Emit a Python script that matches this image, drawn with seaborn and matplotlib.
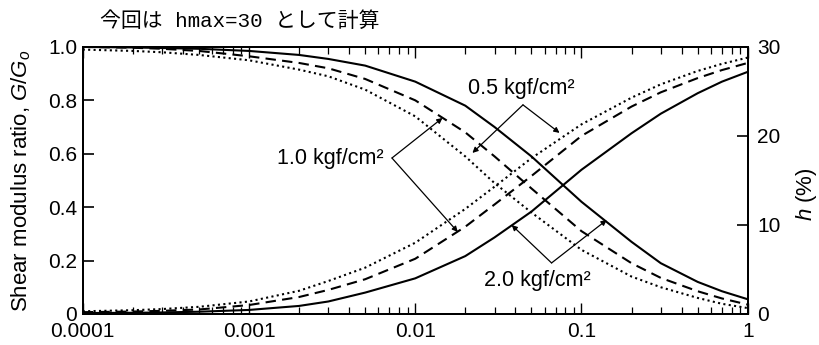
"""
Courbes G/G0 et h en fonction de la deformation (log), trois pressions de confinement
"""

import pandas as pd
import matplotlib
matplotlib.use("Agg")
import matplotlib.pyplot as plt
import seaborn as sns
from matplotlib.ticker import FixedLocator, FixedFormatter, LogLocator, NullFormatter

# ===== DONNEES =====
strain = [1e-4, 2e-4, 3e-4, 5e-4, 1e-3, 2e-3, 3e-3, 5e-3, 1e-2,
          2e-2, 3e-2, 5e-2, 0.1, 0.2, 0.3, 0.5, 0.7, 1.0]

# G/G0 (axe gauche)
g_05 = [0.99, 0.985, 0.98, 0.97, 0.95, 0.915, 0.89, 0.84, 0.74,
        0.59, 0.49, 0.38, 0.24, 0.14, 0.10, 0.06, 0.038, 0.022]
g_10 = [1.0, 0.997, 0.993, 0.985, 0.965, 0.94, 0.92, 0.88, 0.80,
        0.68, 0.59, 0.47, 0.31, 0.19, 0.135, 0.085, 0.058, 0.035]
g_20 = [1.0, 0.998, 0.996, 0.993, 0.985, 0.97, 0.955, 0.93, 0.87,
        0.78, 0.70, 0.59, 0.42, 0.27, 0.19, 0.12, 0.085, 0.055]

# h en % (axe droit)
h_05 = [0.3, 0.42, 0.55, 0.8, 1.4, 2.6, 3.7, 5.2, 8.0,
        11.8, 14.3, 17.5, 21.3, 24.3, 25.8, 27.3, 28.1, 28.8]
h_10 = [0.2, 0.27, 0.35, 0.5, 1.0, 1.9, 2.7, 3.9, 6.2,
        9.8, 12.3, 15.5, 20.0, 23.3, 24.9, 26.5, 27.4, 28.2]
h_20 = [0.1, 0.13, 0.17, 0.25, 0.45, 0.9, 1.4, 2.4, 4.0,
        6.5, 8.6, 11.5, 16.2, 20.3, 22.5, 24.8, 26.1, 27.2]

pressures = ["0.5", "1.0", "2.0"]
x_ticks = [1e-4, 1e-3, 1e-2, 1e-1, 1.0]
x_labels = ["0.0001", "0.001", "0.01", "0.1", "1"]
g_ticks = [0, 0.2, 0.4, 0.6, 0.8, 1.0]
g_labels = ["0", "0.2", "0.4", "0.6", "0.8", "1.0"]
h_ticks = [0, 10, 20, 30]

# tableau long pour seaborn
rows = []
for p, g, h in zip(pressures, [g_05, g_10, g_20], [h_05, h_10, h_20]):
    for s, gv, hv in zip(strain, g, h):
        rows.append({"strain": s, "pressure": p, "G": gv, "h": hv})
df = pd.DataFrame(rows)

dash_map = {"0.5": (1, 1.6), "1.0": (5, 3), "2.0": ""}

# ===== STYLE =====
sns.set_theme(style="ticks")
plt.rcParams["font.family"] = ["Liberation Sans", "Noto Sans CJK JP"]
plt.rcParams["mathtext.fontset"] = "custom"
plt.rcParams["mathtext.rm"] = "Liberation Sans"
plt.rcParams["mathtext.it"] = "Liberation Sans:italic"
for key in ["text.color", "axes.labelcolor", "xtick.color", "ytick.color"]:
    plt.rcParams[key] = "black"

fig = plt.figure(figsize=(8.19, 3.45), dpi=100)
ax = fig.add_axes([0.101, 0.090, 0.812, 0.774])
ax.set_xscale("log")
ax2 = ax.twinx()

# ===== COURBES =====
sns.lineplot(data=df, x="strain", y="G", style="pressure", dashes=dash_map,
             color="black", lw=1.5, legend=False, ax=ax, estimator=None)
sns.lineplot(data=df, x="strain", y="h", style="pressure", dashes=dash_map,
             color="black", lw=1.5, legend=False, ax=ax2, estimator=None)

# ===== AXES =====
ax.set_xlim(1e-4, 1.0)
ax.set_ylim(0, 1.0)
ax2.set_ylim(0, 30)

ax.xaxis.set_major_locator(FixedLocator(x_ticks))
ax.xaxis.set_major_formatter(FixedFormatter(x_labels))
ax.xaxis.set_minor_locator(LogLocator(base=10, subs=range(2, 10), numticks=20))
ax.xaxis.set_minor_formatter(NullFormatter())
ax.yaxis.set_major_locator(FixedLocator(g_ticks))
ax.yaxis.set_major_formatter(FixedFormatter(g_labels))
ax2.yaxis.set_major_locator(FixedLocator(h_ticks))

ax.tick_params(axis="x", which="both", direction="in", top=True, labelsize=15, pad=6)
ax.tick_params(axis="x", which="major", length=8, width=1)
ax.tick_params(axis="x", which="minor", length=5, width=0.9)
ax.tick_params(axis="y", direction="in", length=8, width=1.2, labelsize=15, pad=4)
ax2.tick_params(axis="y", direction="in", length=8, width=1.2, labelsize=15, pad=7)

for a in (ax, ax2):
    for sp in a.spines.values():
        sp.set_linewidth(1.4)
        sp.set_color("black")

ax.set_xlabel("")
ax.set_ylabel("Shear modulus ratio, $G/G_o$", fontsize=16)
ax.yaxis.set_label_coords(-0.092, 0.50)
ax.yaxis.label.set_va("center")
ax2.set_ylabel("$h$ (%)", fontsize=16, rotation=90)
ax2.yaxis.set_label_coords(1.089, 0.45)
ax2.yaxis.label.set_va("center")

# ===== ETIQUETTES AVEC FLECHES =====
def label_arrows(text, text_xy, ha, vertex, tips):
    ax2.text(text_xy[0], text_xy[1], text, transform=ax2.transAxes,
             ha=ha, va="center", fontsize=15.5)
    for tip in tips:
        ax2.annotate("", xy=tip, xytext=vertex,
                     xycoords="axes fraction", textcoords="axes fraction",
                     arrowprops=dict(arrowstyle="-|>", color="black", lw=0.9,
                                     mutation_scale=8, shrinkA=0, shrinkB=0))

label_arrows("0.5 kgf/cm\u00b2", (0.659, 0.846), "center",
             (0.662, 0.783), [(0.586, 0.603), (0.717, 0.678)])
label_arrows("1.0 kgf/cm\u00b2", (0.452, 0.584), "right",
             (0.465, 0.584), [(0.541, 0.734), (0.564, 0.307)])
label_arrows("2.0 kgf/cm\u00b2", (0.684, 0.124), "center",
             (0.705, 0.191), [(0.645, 0.333), (0.788, 0.352)])

# titre en haut a gauche
fig.text(100 / 819, 1 - 21 / 345, "今回は hmax=30 として計算",
         family=["Liberation Mono", "Noto Sans CJK JP"],
         fontsize=15, ha="left", va="center")

fig.savefig("out.png", dpi=100)
